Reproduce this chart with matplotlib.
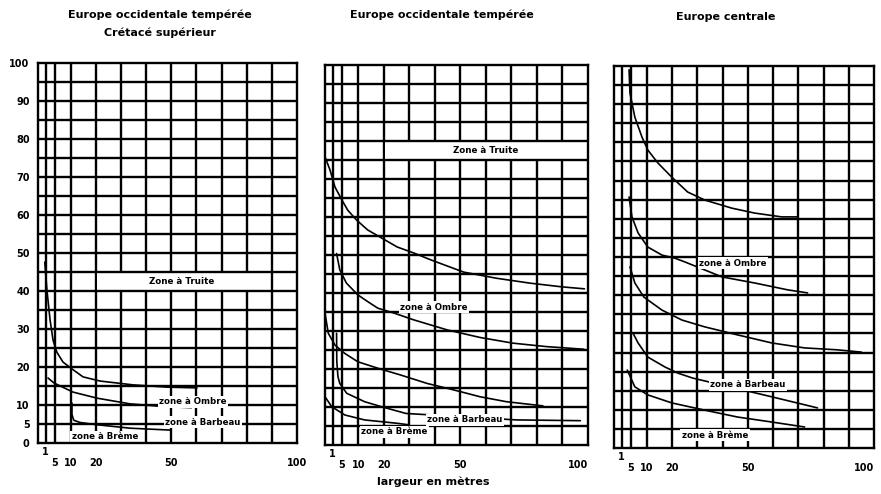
import numpy as np
import matplotlib.pyplot as plt

plt.rcParams['font.family'] = ['DejaVu Sans']

# x axis of the original is squeezed near the origin (1 and 5 sit before 10)
x_vals = [0, 1, 5, 10, 100]
x_pos = [0, 3, 6.6, 13, 103]

def fwd(v):
    return np.interp(v, x_vals, x_pos)

def inv(p):
    return np.interp(p, x_pos, x_vals)

x_grid = [1, 5, 10, 20, 30, 40, 50, 60, 70, 80, 90]
y_grid = list(range(5, 100, 5))
x_tick_vals = [1, 5, 10, 20, 50, 100]
x_tick_labels = ['1', '5', '10', '20', '50', '100']
y_tick_vals = [0, 5, 10, 20, 30, 40, 50, 60, 70, 80, 90, 100]
y_tick_labels = ['0', '5', '10', '20', '30', '40', '50', '60', '70', '80', '90', '100']

# panel 1 : Europe occidentale tempérée, Crétacé supérieur
p1_truite_x = [0.9, 1.6, 3.0, 4.3, 5.7, 7.6, 10.5, 14.9, 21.7, 34.8, 48.3, 60.2]
p1_truite_y = [47.6, 40.3, 32.4, 27.1, 23.9, 21.3, 19.5, 17.4, 16.3, 15.3, 14.7, 14.5]
p1_ombre_x = [2.1, 4.7, 10.9, 20.5, 33.6, 46.7, 58.0]
p1_ombre_y = [17.1, 15.8, 13.4, 11.8, 10.3, 9.6, 9.3]
p1_barbeau_x = [10.5, 10.5, 11.2, 13.7, 20.5, 33.6, 49.5]
p1_barbeau_y = [10.5, 7.5, 6.0, 5.4, 4.8, 3.9, 3.4]

# panel 2 : Europe occidentale tempérée
p2_a_x = [0, 0.65, 2, 5, 6.8, 9.5, 13.7, 19.1, 25.3, 31.9, 38.5, 51.3, 64, 77.2, 90, 98.6]
p2_a_y = [75.8, 72.4, 67.9, 64.5, 61.8, 59.2, 56.6, 54.5, 52.1, 50.5, 48.7, 45.5, 43.9, 42.6, 41.6, 41.1]
p2_b_x = [2.7, 4.1, 6.4, 9.9, 13.8, 17.7, 24.1, 31.9, 44.8, 57.7, 70.6, 83.6, 98.4]
p2_b_y = [50.4, 46.1, 42.6, 39.5, 37.7, 36.0, 34.7, 32.9, 30.3, 28.3, 26.8, 25.9, 25.2]
p2_c_x = [0, 0.43, 2, 5.9, 9.9, 17.7, 26.7, 37, 47.4, 57.7, 68, 82.3]
p2_c_y = [34.7, 29.4, 26.3, 24.1, 21.9, 20.2, 18.4, 16.2, 14.5, 12.7, 11.4, 10.3]
p2_d_x = [2.7, 2.8, 3.3, 4.1, 6.5, 12.5, 19, 28.7, 72, 97]
p2_d_y = [29.4, 22.0, 18.0, 16.2, 13.6, 11.4, 10.1, 8.3, 6.6, 6.4]
p2_e_x = [0, 0.87, 5.9, 12.5, 25.4, 30]
p2_e_y = [12.7, 10.1, 7.9, 6.6, 5.7, 5.3]

# panel 3 : Europe centrale
p3_a_x = [4.3, 4.7, 6.3, 8.5, 10.4, 14.4, 19.9, 26.2, 33, 43.6, 52.7, 63.4, 69.7]
p3_a_y = [99, 92.9, 86.6, 81.4, 78, 74.6, 70.9, 67, 64.9, 62.8, 61.5, 60.5, 60.5]
p3_b_x = [4.3, 5.4, 7.3, 10.4, 16, 21.1, 25.1, 33, 39.7, 52.7, 65.8, 73.7]
p3_b_y = [65.7, 60.5, 56.3, 52.6, 50.5, 49.7, 48.7, 46.6, 44.8, 43.2, 41.4, 40.6]
p3_c_x = [4.7, 6.3, 9.1, 16, 23.9, 33, 46, 59.5, 72.5, 85.5, 95]
p3_c_y = [47.4, 43.2, 39.5, 36.1, 33.5, 31.7, 29.6, 27.5, 26.2, 25.7, 25.1]
p3_d_x = [5.7, 7.3, 10.4, 17.2, 22.3, 28.2, 44.8, 59.5, 77.6]
p3_d_y = [30.1, 27.5, 23.8, 21.2, 19.6, 18.3, 15.7, 13.4, 10.5]
p3_f_x = [3.5, 6.3, 10.4, 19.9, 33, 46, 59.5, 72.5]
p3_f_y = [20.4, 16, 13.9, 11.8, 9.9, 8.1, 6.8, 5.5]

panels = [
    {
        'frame': (38, 297, 63, 443),
        'curves': [(p1_truite_x, p1_truite_y), (p1_ombre_x, p1_ombre_y),
                   (p1_barbeau_x, p1_barbeau_y)],
        'truite': (20, 90, 40, 45, 54),
        'labels': [('zone à Ombre', 58.6, 10.8), ('zone à Barbeau', 62.6, 5.5),
                   ('zone à Brème', 23.6, 1.6)],
        'yticks': True,
    },
    {
        'frame': (325, 588, 65, 445),
        'curves': [(p2_a_x, p2_a_y), (p2_b_x, p2_b_y), (p2_c_x, p2_c_y),
                   (p2_d_x, p2_d_y), (p2_e_x, p2_e_y)],
        'truite': (20, 100, 75, 80, 60),
        'labels': [('zone à Ombre', 39.6, 36.3), ('zone à Barbeau', 51.7, 6.6),
                   ('zone à Brème', 24.1, 3.5)],
        'yticks': False,
    },
    {
        'frame': (614, 874, 66, 448),
        'curves': [(p3_a_x, p3_a_y), (p3_b_x, p3_b_y), (p3_c_x, p3_c_y),
                   (p3_d_x, p3_d_y), (p3_f_x, p3_f_y)],
        'truite': None,
        'labels': [('zone à Ombre', 44, 48.4), ('zone à Barbeau', 50, 16.5),
                   ('zone à Brème', 37, 3.4)],
        'yticks': False,
    },
]

W, H = 881, 494
fig = plt.figure(figsize=(W / 100, H / 100), dpi=100)

for i, pan in enumerate(panels):
    l, r, t, b = pan['frame']
    ax = fig.add_axes([l / W, 1 - b / H, (r - l) / W, (b - t) / H])
    ax.set_xscale('function', functions=(fwd, inv))
    ax.set_xlim(0, 100)
    ax.set_ylim(0, 100)

    for v in x_grid:
        ax.axvline(v, color='black', lw=1.7, zorder=1)
    if pan['truite'] is not None:
        x0, x1, y0, y1, xt = pan['truite']
        ax.fill_between([x0 + 0.6, x1 - 0.6], y0, y1, color='white', lw=0, zorder=2)
        ax.text(xt, (y0 + y1) / 2, 'Zone à Truite', ha='center', va='center',
                fontsize=6.3, fontweight='bold', zorder=5)
    for v in y_grid:
        ax.axhline(v, color='black', lw=1.7, zorder=3)

    for cx, cy in pan['curves']:
        ax.plot(cx, cy, color='black', lw=1.2, zorder=4, solid_capstyle='round')

    for txt, lx, ly in pan['labels']:
        ax.text(lx, ly, txt, ha='center', va='center', fontsize=6.2,
                fontweight='bold', zorder=5,
                bbox=dict(facecolor='white', edgecolor='none', pad=1.0))

    for sp in ax.spines.values():
        sp.set_linewidth(1.7)
        sp.set_zorder(6)

    ax.set_xticks([])
    if pan['yticks']:
        ax.set_yticks(y_tick_vals, y_tick_labels)
        ax.tick_params(axis='y', length=0, pad=6, labelsize=7)
        for lab in ax.get_yticklabels():
            lab.set_fontweight('bold')
    else:
        ax.set_yticks([])
    ax.minorticks_off()

    for v, lab in zip(x_tick_vals, x_tick_labels):
        dy = -6.5 if v == 1 else -14.5
        ha = 'right' if (v == 100 and i > 0) else 'center'
        ax.annotate(lab, xy=(v, 0), xycoords=('data', 'axes fraction'),
                    xytext=(0, dy), textcoords='offset points', ha=ha, va='center',
                    fontsize=7, fontweight='bold')

fig.text(160 / W, 1 - 15 / H, 'Europe occidentale tempérée', ha='center', va='center',
         fontsize=8, fontweight='bold')
fig.text(160 / W, 1 - 33 / H, 'Crétacé supérieur', ha='center', va='center',
         fontsize=8, fontweight='bold')
fig.text(442 / W, 1 - 15 / H, 'Europe occidentale tempérée', ha='center', va='center',
         fontsize=8, fontweight='bold')
fig.text(726 / W, 1 - 17 / H, 'Europe centrale', ha='center', va='center',
         fontsize=8, fontweight='bold')
fig.text(433 / W, 1 - 482 / H, 'largeur en mètres', ha='center', va='center',
         fontsize=8, fontweight='bold')

fig.savefig('out.png', dpi=100)
